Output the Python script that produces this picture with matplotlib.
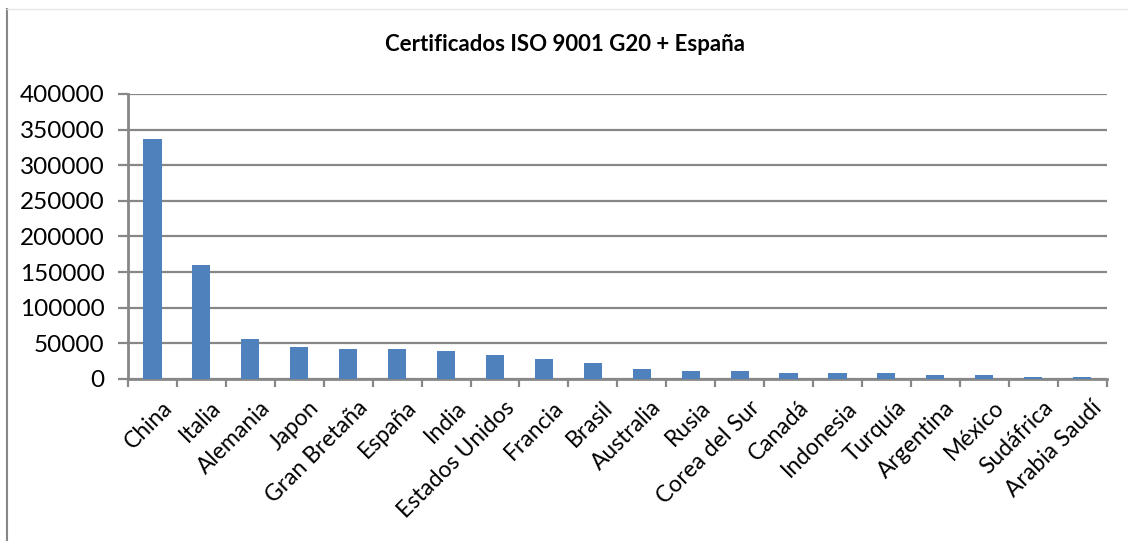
import matplotlib
matplotlib.use("Agg")
import matplotlib.pyplot as plt
import matplotlib.transforms as mtransforms
from matplotlib.lines import Line2D
import numpy as np

# Certificados ISO 9001, paises del G20 + España
paises = ["China", "Italia", "Alemania", "Japon", "Gran Bretaña", "España",
          "India", "Estados Unidos", "Francia", "Brasil", "Australia", "Rusia",
          "Corea del Sur", "Canadá", "Indonesia", "Turquía", "Argentina",
          "México", "Sudáfrica", "Arabia Saudí"]
certificados = [337000, 160000, 56000, 45000, 42000, 42000, 39000, 34000,
                28000, 22500, 14000, 11000, 11000, 8500, 8000, 8500, 6000,
                5600, 2800, 2800]
yticks = [0, 50000, 100000, 150000, 200000, 250000, 300000, 350000, 400000]

plt.rcParams['font.family'] = ['Lato', 'DejaVu Sans']
gris = "#878787"

fig = plt.figure(figsize=(11.28, 5.46), dpi=100)
ax = fig.add_axes([0.1135, 0.306, 0.8675, 0.522])

x = np.arange(len(paises))
ax.bar(x, certificados, width=0.37, color="#4F81BD", zorder=3)

ax.set_xlim(-0.5, len(paises) - 0.5)
ax.set_ylim(0, 400000)
ax.set_yticks(yticks)
ax.set_yticklabels([str(v) for v in yticks], fontsize=17.5)
ax.yaxis.grid(True, color=gris, linewidth=1.6, zorder=0)

# marcas del eje x entre categorias, etiquetas en el centro
ax.set_xticks(np.arange(-0.5, len(paises), 1.0))
ax.set_xticklabels([])
ax.set_xticks(x, minor=True)
ax.set_xticklabels(paises, minor=True, rotation=45, ha="right",
                   rotation_mode="anchor", fontsize=16.5)
ax.tick_params(axis="x", which="minor", length=0, pad=13)
ax.tick_params(axis="x", which="major", length=6, width=1.6, color=gris)
ax.tick_params(axis="y", length=7, width=1.6, color=gris, pad=10)

# desplazar un poco las etiquetas a la derecha, como en el original
desplaza = mtransforms.ScaledTranslation(9 / 100, 0, fig.dpi_scale_trans)
for lbl in ax.get_xticklabels(minor=True):
    lbl.set_transform(lbl.get_transform() + desplaza)

for side in ["top", "right"]:
    ax.spines[side].set_visible(False)
for side in ["left", "bottom"]:
    ax.spines[side].set_color(gris)
    ax.spines[side].set_linewidth(2)

fig.text(0.501, 0.918, "Certificados ISO 9001 G20 + España",
         ha="center", va="center", fontsize=16, fontweight="bold")

# borde del grafico (solo visible a la izquierda y arriba)
fig.add_artist(Line2D([7 / 1128, 7 / 1128], [1 - 9 / 546, 1 - 540 / 546],
                      transform=fig.transFigure, color=gris, linewidth=1.5))
fig.add_artist(Line2D([7 / 1128, 1.0], [1 - 9 / 546, 1 - 9 / 546],
                      transform=fig.transFigure, color="#e6e6e6", linewidth=1))

fig.savefig("out.png", dpi=100)
